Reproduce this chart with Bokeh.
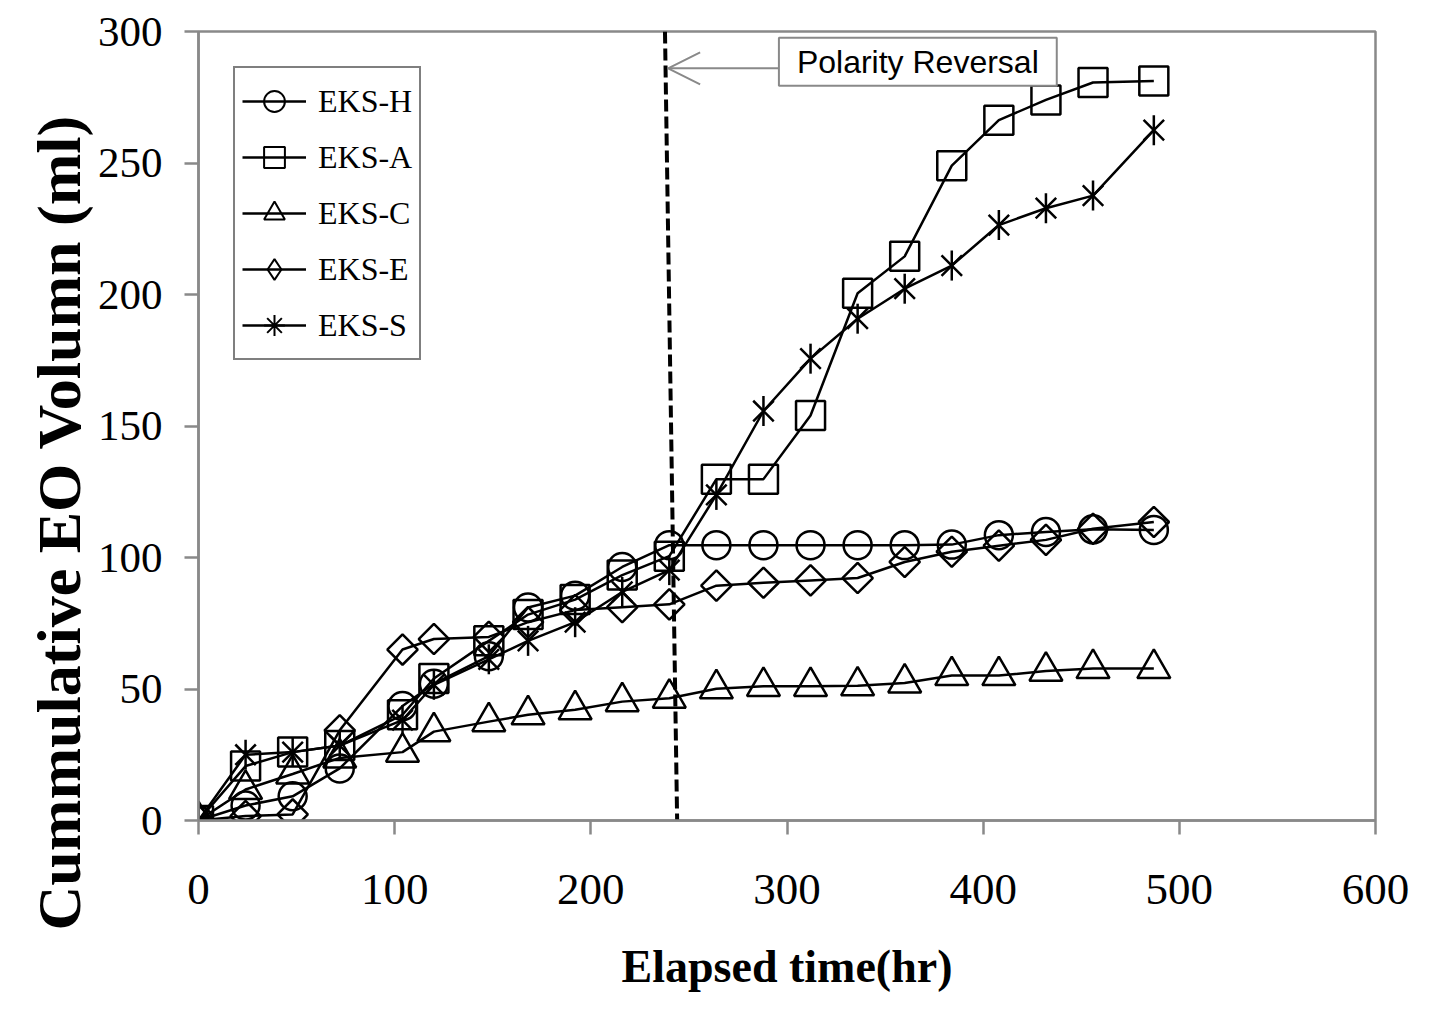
import numpy as np
from bokeh.plotting import figure
from bokeh.models import (Range1d, Legend, LegendItem, Label, Arrow, OpenHead,
                          FixedTicker, Title)
from bokeh.embed import file_html
from bokeh.resources import INLINE

# ---------------- data ----------------
time_hr = [0, 24, 48, 72, 104, 120, 148, 168, 192, 216, 240,
           264, 288, 312, 336, 360, 384, 408, 432, 456, 487]

eks_h = [0, 5.7, 9.2, 19.8, 43.5, 52.0, 62.5, 81.0, 85.5, 96.4, 104.7,
         104.7, 104.7, 104.7, 104.7, 104.7, 104.9, 108.5, 109.7, 110.7, 110.5]
eks_a = [0, 20.7, 26.0, 28.5, 40.2, 54.0, 68.3, 78.3, 84.0, 93.3, 100.5,
         129.8, 129.8, 154.0, 200.5, 214.5, 249.0, 266.3, 274.0, 280.6, 281.2]
eks_c = [0, 11.8, 17.7, 23.8, 26.0, 33.8, 37.6, 40.2, 42.1, 45.2, 46.5,
         50.1, 51.0, 51.0, 51.2, 52.3, 55.1, 55.1, 56.8, 57.8, 57.8]
eks_e = [0, 1.7, 2.3, 34.3, 65.0, 69.0, 69.8, 75.4, 80.0, 81.1, 82.2,
         89.3, 90.4, 91.3, 92.2, 98.3, 102.2, 104.5, 106.7, 110.9, 113.5]
eks_s = [0, 25.0, 26.0, 28.5, 38.2, 51.6, 61.3, 68.3, 75.4, 86.9, 95.2,
         123.8, 155.7, 175.6, 190.8, 202.2, 211.0, 226.4, 232.8, 237.6, 262.5]

series_names = ["EKS-H", "EKS-A", "EKS-C", "EKS-E", "EKS-S"]

x_ticks = [0, 100, 200, 300, 400, 500, 600]
y_ticks = [0, 50, 100, 150, 200, 250, 300]

# polarity reversal marker line (annotation)
reversal_x = [237.8, 244.0]
reversal_y = [300, 0]
reversal_text = "Polarity Reversal"

GRAY = "#898989"
SERIF = "Liberation Serif"

W, H = 1422, 1006
p = figure(width=W, height=H,
           x_range=Range1d(0, 600), y_range=Range1d(0, 300),
           output_backend="svg", toolbar_location=None,
           min_border_left=198, min_border_right=W - 1375,
           min_border_top=31, min_border_bottom=H - 820)

p.background_fill_color = "white"
p.border_fill_color = "white"
p.grid.visible = False
p.outline_line_color = GRAY
p.outline_line_width = 2.5

for ax in (p.xaxis, p.yaxis):
    ax.axis_line_color = GRAY
    ax.axis_line_width = 2.5
    ax.major_tick_line_color = GRAY
    ax.major_tick_line_width = 2.5
    ax.major_tick_in = 0
    ax.major_tick_out = 14
    ax.minor_tick_line_color = None
    ax.major_label_text_font = SERIF
    ax.major_label_text_color = "black"

p.xaxis.ticker = FixedTicker(ticks=x_ticks)
p.yaxis.ticker = FixedTicker(ticks=y_ticks)
p.xaxis.major_label_text_font_size = "45px"
p.yaxis.major_label_text_font_size = "43px"
p.xaxis.major_label_standoff = 40
p.yaxis.major_label_standoff = 22

p.xaxis.axis_label = "Elapsed time(hr)"
p.xaxis.axis_label_text_font = SERIF
p.xaxis.axis_label_text_font_style = "bold"
p.xaxis.axis_label_text_font_size = "46px"
p.xaxis.axis_label_text_color = "black"
p.xaxis.axis_label_standoff = 34

# y-axis title, starting below the plot bottom as in the original
ytitle = Title(text="Cummulative EO Volumn (ml)", align="left", offset=-110,
               text_font=SERIF, text_font_style="bold", text_font_size="62px",
               text_color="black", standoff=4)
p.add_layout(ytitle, "left")

LW = 2.5
nan = [np.nan]
items = []
specs = [
    (eks_h, [dict(marker="circle", size=28)], dict(marker="circle")),
    (eks_a, [dict(marker="square", size=29)], dict(marker="square")),
    (eks_c, [dict(marker="triangle", size=33)], dict(marker="triangle")),
    (eks_e, [dict(marker="square", size=21.5, angle=np.pi / 4)], dict(marker="diamond")),
    (eks_s, [dict(marker="x", size=29), dict(marker="dash", size=30, angle=np.pi / 2)],
     dict(marker="asterisk")),
]
for name, (vals, mks, legmk) in zip(series_names, specs):
    rl = p.line(time_hr, vals, line_color="black", line_width=LW)
    for mk in mks:
        p.scatter(time_hr, vals, fill_color=None, line_color="black",
                  line_width=LW, **mk)
    # legend key glyph (no data of its own; shape only for the legend)
    rk = p.scatter(nan, nan, fill_color=None, line_color="black",
                   line_width=2, size=20, **legmk)
    items.append(LegendItem(label=name, renderers=[rl, rk]))

legend = Legend(items=items, location="top_left")
legend.border_line_color = "black"
legend.border_line_width = 2
legend.background_fill_color = "white"
legend.background_fill_alpha = 1
legend.label_text_font = SERIF
legend.label_text_font_size = "32px"
legend.label_text_color = "black"
legend.glyph_width = 64
legend.glyph_height = 52
legend.label_height = 52
legend.spacing = 4
legend.padding = 7
legend.label_standoff = 12
legend.margin = 35
p.add_layout(legend)

# dashed polarity reversal line
p.line(reversal_x, reversal_y, line_color="black", line_width=4, line_dash="12 5")

# text box and arrow
box_cx, box_cy = 366.7, 288.5
arrow_y = 286.0
p.add_layout(Label(x=box_cx, y=box_cy, text=reversal_text,
                   text_align="center", text_baseline="middle",
                   text_font="Liberation Sans", text_font_size="32px",
                   text_color="black",
                   border_line_color=GRAY, border_line_width=2,
                   background_fill_color="white", padding=(18, 6)))
p.add_layout(Arrow(end=OpenHead(size=32, line_color=GRAY, line_width=2),
                   x_start=295.6, y_start=arrow_y, x_end=239.4, y_end=arrow_y,
                   line_color=GRAY, line_width=2))

open("out.html", "w").write(file_html(p, INLINE))
